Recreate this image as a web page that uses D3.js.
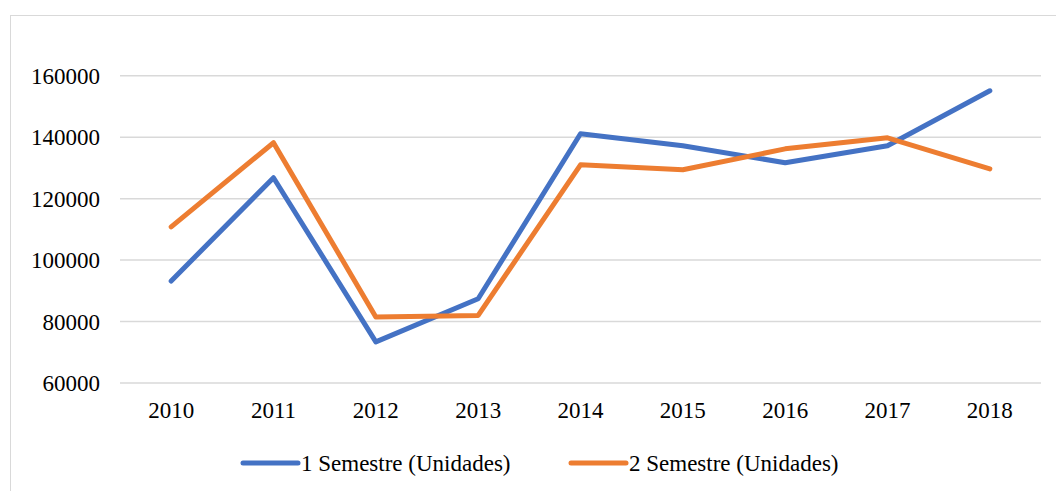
<!DOCTYPE html>
<html>
<head>
<meta charset="utf-8">
<script src="https://cdn.jsdelivr.net/npm/d3@7"></script>
</head>
<body style="margin:0">
<script>
const years = ['2010', '2011', '2012', '2013', '2014', '2015', '2016', '2017', '2018'];
const semestre1 = [93200, 126800, 73400, 87400, 141100, 137200, 131700, 137200, 155100];
const semestre2 = [110800, 138200, 81500, 82000, 131000, 129400, 136200, 139800, 129700];
const yTicks = [60000, 80000, 100000, 120000, 140000, 160000];
const seriesNames = ['1 Semestre (Unidades)', '2 Semestre (Unidades)'];
const colors = ['#4472C4', '#ED7D31'];

const w = 1056;
const h = 491;
const svg = d3.select('body').append('svg').attr('width', w).attr('height', h);

// chart frame
svg.append('rect')
  .attr('x', 10.5).attr('y', 15.5)
  .attr('width', w + 10).attr('height', h + 10)
  .attr('fill', 'none').attr('stroke', '#d9d9d9').attr('stroke-width', 1);

const left = 120, right = 1041;
const x = d3.scalePoint().domain(years).range([left, right]).padding(0.5);
const y = d3.scaleLinear().domain([60000, 170000]).range([383, 45]);

// gridlines
svg.selectAll('line.grid')
  .data(yTicks)
  .enter()
  .append('line')
  .attr('class', 'grid')
  .attr('x1', left).attr('x2', right)
  .attr('y1', (d) => y(d)).attr('y2', (d) => y(d))
  .attr('stroke', '#d9d9d9').attr('stroke-width', 1.5);

const lines = d3.line()
  .x((d, i) => x(years[i]))
  .y((d) => y(d));

[semestre1, semestre2].forEach((s, i) => {
  svg.append('path')
    .datum(s)
    .attr('d', lines)
    .attr('fill', 'none')
    .attr('stroke', colors[i])
    .attr('stroke-width', 5)
    .attr('stroke-linejoin', 'round')
    .attr('stroke-linecap', 'round');
});

// legend swatches
const legendX = [243, 571];
svg.selectAll('line.key')
  .data(seriesNames)
  .enter()
  .append('line')
  .attr('class', 'key')
  .attr('x1', (d, i) => legendX[i]).attr('x2', (d, i) => legendX[i] + 55)
  .attr('y1', 463).attr('y2', 463)
  .attr('stroke', (d, i) => colors[i]).attr('stroke-width', 5)
  .attr('stroke-linecap', 'round');

// all texts in one selection
const labels = []
  .concat(yTicks.map((v) => ({ t: String(v), x: 100, y: y(v) + 8, a: 'end' })))
  .concat(years.map((v) => ({ t: v, x: x(v), y: 418, a: 'middle' })))
  .concat(seriesNames.map((v, i) => ({ t: v, x: legendX[i] + 58, y: 471, a: 'start' })));

svg.selectAll('text')
  .data(labels)
  .enter()
  .append('text')
  .attr('x', (d) => d.x)
  .attr('y', (d) => d.y)
  .attr('text-anchor', (d) => d.a)
  .attr('font-family', () => 'Times New Roman')
  .attr('font-size', 23)
  .text((d) => d.t);
</script>
</body>
</html>
